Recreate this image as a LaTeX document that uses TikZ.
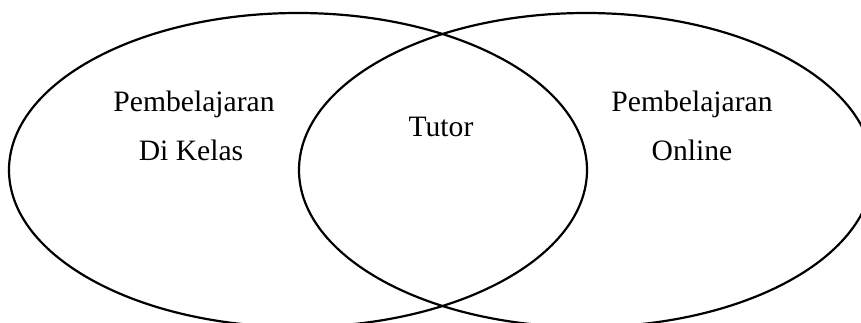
\documentclass[tikz,border=0pt]{standalone}
\usepackage{fontspec}
\setmainfont{Liberation Serif}

\begin{document}
\begin{tikzpicture}[
    x=0.5pt, y=-0.5pt,
    label/.style={font=\fontsize{14.8}{17}\selectfont, inner sep=0pt},
    ring/.style={black, line width=1.1pt},
]

% Canvas
\useasboundingbox (0,0) rectangle (861,322);
\clip (0,0) rectangle (861,322);

% =============================================
% Two overlapping ellipses
% =============================================
\draw[ring] (298,170) ellipse [x radius=289, y radius=157];
\draw[ring] (586,170) ellipse [x radius=287, y radius=157];

% Labels
\node[label] (kelasA) at (194,104) {Pembelajaran};
\node[label] (kelasB) at (191,150) {Di Kelas};
\node[label] (tutor)  at (441,127) {Tutor};
\node[label] (onlA)   at (692,104) {Pembelajaran};
\node[label] (onlB)   at (692,150) {Online};

\end{tikzpicture}
\end{document}
